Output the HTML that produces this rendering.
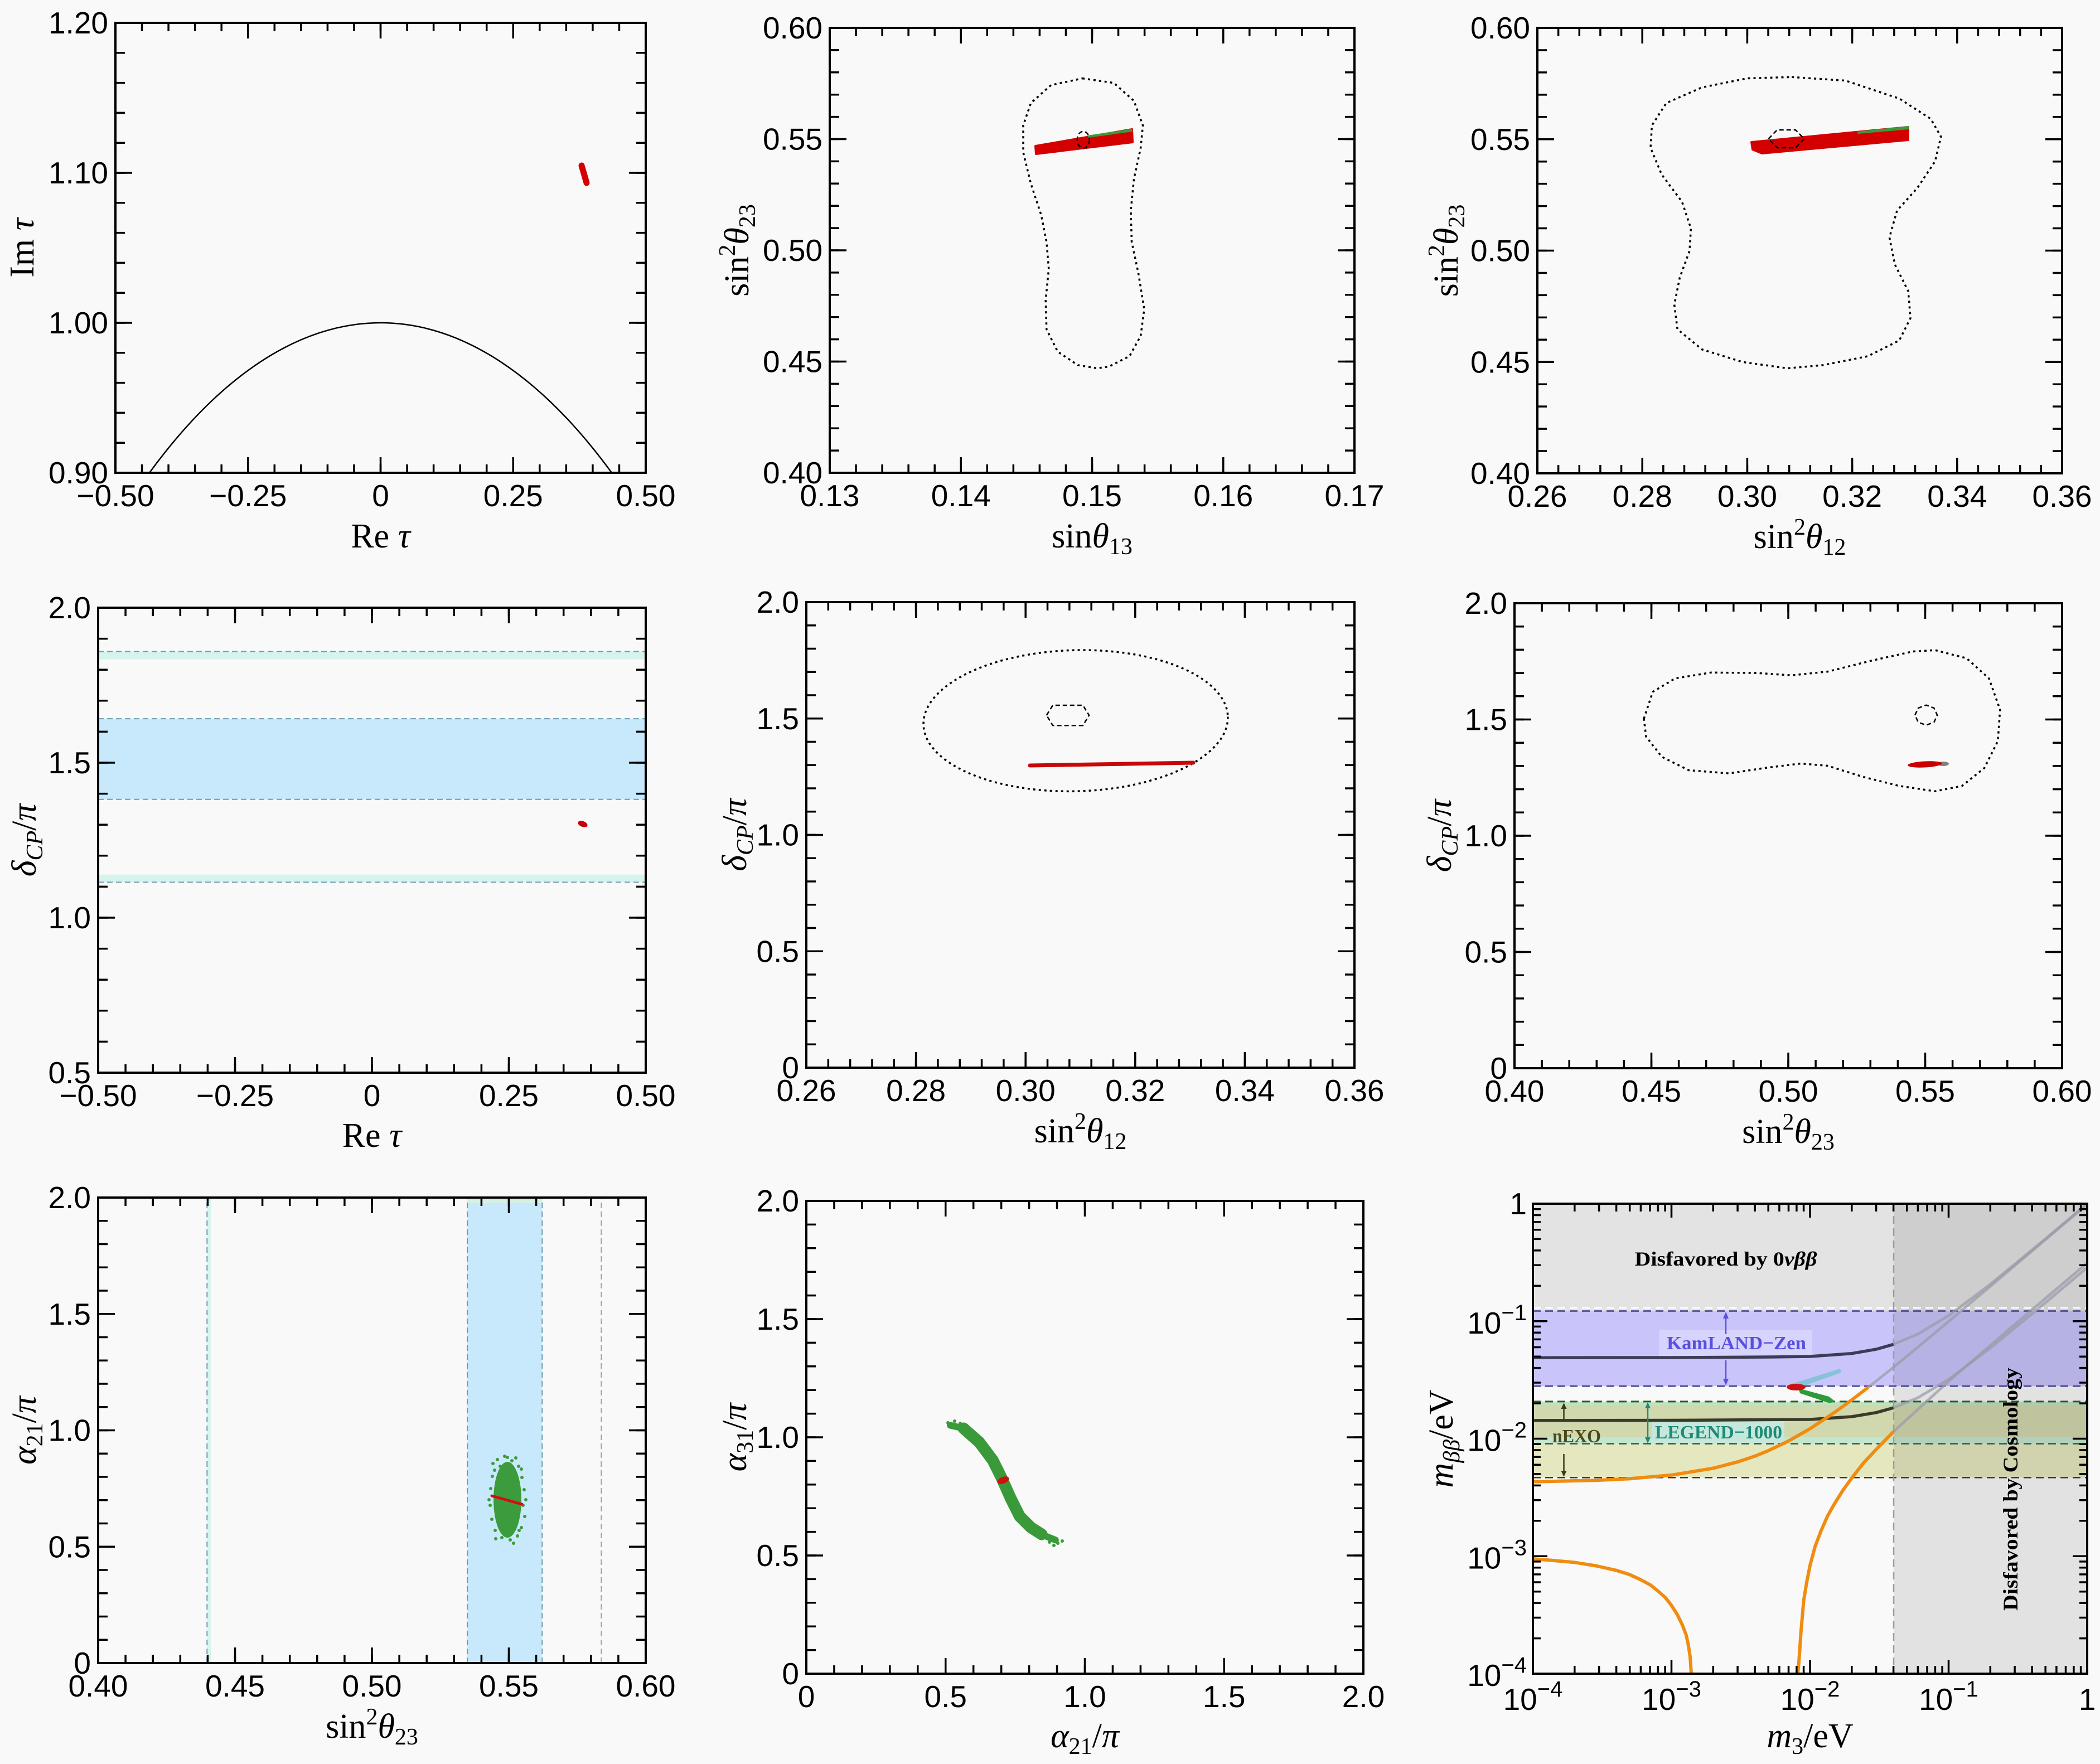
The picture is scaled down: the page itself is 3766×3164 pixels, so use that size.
<!DOCTYPE html>
<html><head><meta charset="utf-8"><style>
html,body{margin:0;padding:0;background:#f9f9f9;}
svg{display:block;}
.tl{font-family:"Liberation Sans",sans-serif;font-size:55px;fill:#000;}
.ti{font-family:"Liberation Serif",serif;font-size:62px;fill:#000;}
.it{font-style:italic;}
.fr{fill:none;stroke:#000;stroke-width:4;}
.tk{stroke:#000;fill:none;}
.dot{fill:none;stroke:#000;stroke-width:3.5;stroke-dasharray:4 6;stroke-linejoin:round;}
.dsh{fill:none;stroke:#000;stroke-width:2.5;stroke-dasharray:8 5;}
</style></head><body>
<svg width="3766" height="3164" viewBox="0 0 3766 3164" xmlns="http://www.w3.org/2000/svg">
<rect x="0" y="0" width="3766" height="3164" fill="#f9f9f9"/>

<!-- ===== P1 ===== -->
<path d="M268 848 A951 2690 0 0 1 1097 848" fill="none" stroke="#000" stroke-width="2.5"/>
<line x1="1043" y1="297" x2="1052" y2="328" stroke="#d40000" stroke-width="11" stroke-linecap="round"/>
<g class="tk">
<line x1="207" y1="840.5" x2="1158" y2="840.5" stroke-width="15" stroke-dasharray="3.5 44.05" stroke-dashoffset="1.75"/>
<line x1="207" y1="48.5" x2="1158" y2="48.5" stroke-width="15" stroke-dasharray="3.5 44.05" stroke-dashoffset="1.75"/>
<line x1="207" y1="834" x2="1158" y2="834" stroke-width="28" stroke-dasharray="3.5 234.25" stroke-dashoffset="1.75"/>
<line x1="207" y1="55" x2="1158" y2="55" stroke-width="28" stroke-dasharray="3.5 234.25" stroke-dashoffset="1.75"/>
<line x1="215.5" y1="848" x2="215.5" y2="41" stroke-width="17" stroke-dasharray="3.5 50.3" stroke-dashoffset="1.75"/>
<line x1="1149.5" y1="848" x2="1149.5" y2="41" stroke-width="17" stroke-dasharray="3.5 50.3" stroke-dashoffset="1.75"/>
<line x1="222" y1="848" x2="222" y2="41" stroke-width="30" stroke-dasharray="3.5 265.5" stroke-dashoffset="1.75"/>
<line x1="1143" y1="848" x2="1143" y2="41" stroke-width="30" stroke-dasharray="3.5 265.5" stroke-dashoffset="1.75"/>
</g>
<rect class="fr" x="207" y="41" width="951" height="807"/>
<g class="tl" text-anchor="middle">
<text x="207" y="908">−0.50</text><text x="444.75" y="908">−0.25</text><text x="682.5" y="908">0</text><text x="920.25" y="908">0.25</text><text x="1158" y="908">0.50</text>
</g>
<g class="tl" text-anchor="end">
<text x="194" y="867">0.90</text><text x="194" y="598">1.00</text><text x="194" y="329">1.10</text><text x="194" y="60">1.20</text>
</g>
<text class="ti" x="682.5" y="982" text-anchor="middle">Re <tspan class="it">τ</tspan></text>
<text class="ti" transform="translate(40 444.5) rotate(-90)" y="20" text-anchor="middle">Im <tspan class="it">τ</tspan></text>

<!-- ===== P2 ===== -->
<path class="dot" d="M1941.1 140.6 L1997.3 148.7 L2033.5 180.8 L2049.6 225 L2045.6 265.2 L2033.5 321.4 L2027.9 377.7 L2029.5 433.9 L2041.5 490.2 L2052 554.5 L2045.6 602.7 L2025.5 638.9 L1989.3 657.3 L1967.6 660.6 L1933 654.9 L1896.9 630.8 L1876.8 590.6 L1875.2 538.4 L1880.8 482.2 L1876.8 433.9 L1867.2 385.7 L1848.7 329.5 L1835 273.2 L1835 225 L1848.7 184.8 L1884.8 152.7 Z"/>
<path d="M1857 262 L2030 232 L2031 255 L1858 276 Z" fill="#d40000" stroke="#d40000" stroke-width="4" stroke-linejoin="round"/>
<path d="M1950 243 L2030 231 L2031 236 L1952 247 Z" fill="#3a9a3a"/>
<ellipse class="dsh" cx="1942.7" cy="250.7" rx="11" ry="15"/>
<g class="tk">
<line x1="1488" y1="840.5" x2="2429" y2="840.5" stroke-width="15" stroke-dasharray="3.5 43.55" stroke-dashoffset="1.75"/>
<line x1="1488" y1="57.5" x2="2429" y2="57.5" stroke-width="15" stroke-dasharray="3.5 43.55" stroke-dashoffset="1.75"/>
<line x1="1488" y1="834" x2="2429" y2="834" stroke-width="28" stroke-dasharray="3.5 231.75" stroke-dashoffset="1.75"/>
<line x1="1488" y1="64" x2="2429" y2="64" stroke-width="28" stroke-dasharray="3.5 231.75" stroke-dashoffset="1.75"/>
<line x1="1496.5" y1="848" x2="1496.5" y2="50" stroke-width="17" stroke-dasharray="3.5 36.4" stroke-dashoffset="1.75"/>
<line x1="2420.5" y1="848" x2="2420.5" y2="50" stroke-width="17" stroke-dasharray="3.5 36.4" stroke-dashoffset="1.75"/>
<line x1="1503" y1="848" x2="1503" y2="50" stroke-width="30" stroke-dasharray="3.5 196" stroke-dashoffset="1.75"/>
<line x1="2414" y1="848" x2="2414" y2="50" stroke-width="30" stroke-dasharray="3.5 196" stroke-dashoffset="1.75"/>
</g>
<rect class="fr" x="1488" y="50" width="941" height="798"/>
<g class="tl" text-anchor="middle">
<text x="1488" y="908">0.13</text><text x="1723.25" y="908">0.14</text><text x="1958.5" y="908">0.15</text><text x="2193.75" y="908">0.16</text><text x="2429" y="908">0.17</text>
</g>
<g class="tl" text-anchor="end">
<text x="1475" y="867">0.40</text><text x="1475" y="667.5">0.45</text><text x="1475" y="468">0.50</text><text x="1475" y="268.5">0.55</text><text x="1475" y="69">0.60</text>
</g>
<text class="ti" x="1958.5" y="982" text-anchor="middle">sin<tspan class="it">θ</tspan><tspan dy="12" font-size="42">13</tspan></text>
<text class="ti" transform="translate(1322 449) rotate(-90)" y="20" text-anchor="middle">sin<tspan dy="-24" font-size="42">2</tspan><tspan class="it" dy="24">θ</tspan><tspan dy="12" font-size="42">23</tspan></text>

<!-- ===== P3 ===== -->
<path class="dot" d="M3213.2 138.2 L3309.6 144.6 L3406 176.8 L3462.3 213 L3480.8 245.1 L3470.3 289.3 L3438.2 337.5 L3402 377.7 L3388.4 425.9 L3398 474.1 L3422.1 522.3 L3426.1 570.6 L3406 610.7 L3349.8 638.9 L3269.4 654.9 L3205.1 660.6 L3124.8 649.3 L3052.4 626.8 L3008.2 590.6 L3002.6 546.4 L3012.3 498.2 L3029.9 450 L3032.4 409.8 L3016.3 361.6 L2980.1 313.4 L2960 265.2 L2962.4 225 L2988.2 184.8 L3052.4 156.7 L3132.8 140.6 Z"/>
<path d="M3141 255 L3422 228 L3422 251 L3160 275 L3143 268 Z" fill="#d40000" stroke="#d40000" stroke-width="4" stroke-linejoin="round"/>
<path d="M3330 236 L3423 226 L3423 232 L3332 240 Z" fill="#3a9a3a"/>
<polygon class="dsh" points="3171.5,249 3187,233 3220,233 3235.5,249 3220,265 3187,265"/>
<g class="tk">
<line x1="2757" y1="841.5" x2="3698" y2="841.5" stroke-width="15" stroke-dasharray="3.5 34.14" stroke-dashoffset="1.75"/>
<line x1="2757" y1="57.5" x2="3698" y2="57.5" stroke-width="15" stroke-dasharray="3.5 34.14" stroke-dashoffset="1.75"/>
<line x1="2757" y1="835" x2="3698" y2="835" stroke-width="28" stroke-dasharray="3.5 184.7" stroke-dashoffset="1.75"/>
<line x1="2757" y1="64" x2="3698" y2="64" stroke-width="28" stroke-dasharray="3.5 184.7" stroke-dashoffset="1.75"/>
<line x1="2765.5" y1="849" x2="2765.5" y2="50" stroke-width="17" stroke-dasharray="3.5 36.45" stroke-dashoffset="1.75"/>
<line x1="3689.5" y1="849" x2="3689.5" y2="50" stroke-width="17" stroke-dasharray="3.5 36.45" stroke-dashoffset="1.75"/>
<line x1="2772" y1="849" x2="2772" y2="50" stroke-width="30" stroke-dasharray="3.5 196.25" stroke-dashoffset="1.75"/>
<line x1="3683" y1="849" x2="3683" y2="50" stroke-width="30" stroke-dasharray="3.5 196.25" stroke-dashoffset="1.75"/>
</g>
<rect class="fr" x="2757" y="50" width="941" height="799"/>
<g class="tl" text-anchor="middle">
<text x="2757" y="909">0.26</text><text x="2945.2" y="909">0.28</text><text x="3133.4" y="909">0.30</text><text x="3321.6" y="909">0.32</text><text x="3509.8" y="909">0.34</text><text x="3698" y="909">0.36</text>
</g>
<g class="tl" text-anchor="end">
<text x="2744" y="868">0.40</text><text x="2744" y="668.25">0.45</text><text x="2744" y="468.5">0.50</text><text x="2744" y="268.75">0.55</text><text x="2744" y="69">0.60</text>
</g>
<text class="ti" x="3227.5" y="983" text-anchor="middle">sin<tspan dy="-24" font-size="42">2</tspan><tspan class="it" dy="24">θ</tspan><tspan dy="12" font-size="42">12</tspan></text>
<text class="ti" transform="translate(2594 449.5) rotate(-90)" y="20" text-anchor="middle">sin<tspan dy="-24" font-size="42">2</tspan><tspan class="it" dy="24">θ</tspan><tspan dy="12" font-size="42">23</tspan></text>

<!-- ===== P4 ===== -->
<rect x="176" y="1168.6" width="982" height="14" fill="#d5f4ee"/>
<rect x="176" y="1289.1" width="982" height="144.7" fill="#c7e9fb"/>
<rect x="176" y="1568.8" width="982" height="13.6" fill="#d5f4ee"/>
<g stroke="#6b9eb3" stroke-width="2" stroke-dasharray="10 6">
<line x1="176" y1="1168.6" x2="1158" y2="1168.6"/><line x1="176" y1="1289.1" x2="1158" y2="1289.1"/>
<line x1="176" y1="1433.8" x2="1158" y2="1433.8"/><line x1="176" y1="1582.4" x2="1158" y2="1582.4"/>
</g>
<ellipse cx="1045" cy="1478" rx="9" ry="5" fill="#c80000" transform="rotate(20 1045 1478)"/>
<g class="tk">
<line x1="176" y1="1916.5" x2="1158" y2="1916.5" stroke-width="15" stroke-dasharray="3.5 45.6" stroke-dashoffset="1.75"/>
<line x1="176" y1="1097.5" x2="1158" y2="1097.5" stroke-width="15" stroke-dasharray="3.5 45.6" stroke-dashoffset="1.75"/>
<line x1="176" y1="1910" x2="1158" y2="1910" stroke-width="28" stroke-dasharray="3.5 242" stroke-dashoffset="1.75"/>
<line x1="176" y1="1104" x2="1158" y2="1104" stroke-width="28" stroke-dasharray="3.5 242" stroke-dashoffset="1.75"/>
<line x1="184.5" y1="1924" x2="184.5" y2="1090" stroke-width="17" stroke-dasharray="3.5 52.1" stroke-dashoffset="1.75"/>
<line x1="1149.5" y1="1924" x2="1149.5" y2="1090" stroke-width="17" stroke-dasharray="3.5 52.1" stroke-dashoffset="1.75"/>
<line x1="191" y1="1924" x2="191" y2="1090" stroke-width="30" stroke-dasharray="3.5 274.5" stroke-dashoffset="1.75"/>
<line x1="1143" y1="1924" x2="1143" y2="1090" stroke-width="30" stroke-dasharray="3.5 274.5" stroke-dashoffset="1.75"/>
</g>
<rect class="fr" x="176" y="1090" width="982" height="834"/>
<g class="tl" text-anchor="middle">
<text x="176" y="1984">−0.50</text><text x="421.5" y="1984">−0.25</text><text x="667" y="1984">0</text><text x="912.5" y="1984">0.25</text><text x="1158" y="1984">0.50</text>
</g>
<g class="tl" text-anchor="end">
<text x="163" y="1943">0.5</text><text x="163" y="1665">1.0</text><text x="163" y="1387">1.5</text><text x="163" y="1109">2.0</text>
</g>
<text class="ti" x="667" y="2057" text-anchor="middle">Re <tspan class="it">τ</tspan></text>
<text class="ti" transform="translate(44 1507) rotate(-90)" y="20" text-anchor="middle"><tspan class="it">δ</tspan><tspan class="it" dy="12" font-size="42">CP</tspan><tspan dy="-12">/</tspan><tspan class="it">π</tspan></text>

<!-- ===== P5 ===== -->
<ellipse class="dot" cx="1929" cy="1292.7" rx="273" ry="126.5" transform="rotate(-1.5 1929 1292.7)"/>
<polygon class="dsh" points="1876.8,1283 1888,1265 1942,1265 1953.1,1283 1942,1301.2 1888,1301.2"/>
<line x1="1847" y1="1373" x2="2140" y2="1368" stroke="#c80808" stroke-width="7" stroke-linecap="round"/>
<g class="tk">
<line x1="1446" y1="1907.5" x2="2429" y2="1907.5" stroke-width="15" stroke-dasharray="3.5 35.82" stroke-dashoffset="1.75"/>
<line x1="1446" y1="1087.5" x2="2429" y2="1087.5" stroke-width="15" stroke-dasharray="3.5 35.82" stroke-dashoffset="1.75"/>
<line x1="1446" y1="1901" x2="2429" y2="1901" stroke-width="28" stroke-dasharray="3.5 193.1" stroke-dashoffset="1.75"/>
<line x1="1446" y1="1094" x2="2429" y2="1094" stroke-width="28" stroke-dasharray="3.5 193.1" stroke-dashoffset="1.75"/>
<line x1="1454.5" y1="1915" x2="1454.5" y2="1080" stroke-width="17" stroke-dasharray="3.5 38.25" stroke-dashoffset="1.75"/>
<line x1="2420.5" y1="1915" x2="2420.5" y2="1080" stroke-width="17" stroke-dasharray="3.5 38.25" stroke-dashoffset="1.75"/>
<line x1="1461" y1="1915" x2="1461" y2="1080" stroke-width="30" stroke-dasharray="3.5 205.25" stroke-dashoffset="1.75"/>
<line x1="2414" y1="1915" x2="2414" y2="1080" stroke-width="30" stroke-dasharray="3.5 205.25" stroke-dashoffset="1.75"/>
</g>
<rect class="fr" x="1446" y="1080" width="983" height="835"/>
<g class="tl" text-anchor="middle">
<text x="1446" y="1975">0.26</text><text x="1642.6" y="1975">0.28</text><text x="1839.2" y="1975">0.30</text><text x="2035.8" y="1975">0.32</text><text x="2232.4" y="1975">0.34</text><text x="2429" y="1975">0.36</text>
</g>
<g class="tl" text-anchor="end">
<text x="1433" y="1934">0</text><text x="1433" y="1725.25">0.5</text><text x="1433" y="1516.5">1.0</text><text x="1433" y="1307.75">1.5</text><text x="1433" y="1099">2.0</text>
</g>
<text class="ti" x="1937.5" y="2049" text-anchor="middle">sin<tspan dy="-24" font-size="42">2</tspan><tspan class="it" dy="24">θ</tspan><tspan dy="12" font-size="42">12</tspan></text>
<text class="ti" transform="translate(1318 1497.5) rotate(-90)" y="20" text-anchor="middle"><tspan class="it">δ</tspan><tspan class="it" dy="12" font-size="42">CP</tspan><tspan dy="-12">/</tspan><tspan class="it">π</tspan></text>

<!-- ===== P6 ===== -->
<path class="dot" d="M2948 1289.1 L2964 1240.9 L3004.2 1216.8 L3068.5 1206.3 L3148.9 1207.1 L3213.2 1211.2 L3277.4 1204.7 L3357.8 1184.6 L3430.1 1168.6 L3470.3 1166.2 L3526.6 1180.6 L3566.8 1216.8 L3586.8 1273 L3582.8 1329.3 L3558.7 1377.5 L3518.5 1409.7 L3470.3 1419.3 L3406 1409.7 L3341.7 1393.6 L3277.4 1373.5 L3229.2 1369.5 L3165 1377.5 L3100.7 1387.2 L3028.3 1381.5 L2980.1 1357.4 L2952 1321.3 Z"/>
<polygon class="dsh" points="3434.2,1282.7 3440,1270 3454.2,1264.7 3468.4,1270 3474.2,1282.7 3468.4,1295.4 3454.2,1300.7 3440,1295.4"/>
<ellipse cx="3485" cy="1370" rx="10" ry="4" fill="#808080"/>
<ellipse cx="3452" cy="1371" rx="31" ry="5.5" fill="#c80000" transform="rotate(-3 3452 1371)"/>
<g class="tk">
<line x1="2716" y1="1908.5" x2="3698" y2="1908.5" stroke-width="15" stroke-dasharray="3.5 45.6" stroke-dashoffset="1.75"/>
<line x1="2716" y1="1089.5" x2="3698" y2="1089.5" stroke-width="15" stroke-dasharray="3.5 45.6" stroke-dashoffset="1.75"/>
<line x1="2716" y1="1902" x2="3698" y2="1902" stroke-width="28" stroke-dasharray="3.5 242" stroke-dashoffset="1.75"/>
<line x1="2716" y1="1096" x2="3698" y2="1096" stroke-width="28" stroke-dasharray="3.5 242" stroke-dashoffset="1.75"/>
<line x1="2724.5" y1="1916" x2="2724.5" y2="1082" stroke-width="17" stroke-dasharray="3.5 38.2" stroke-dashoffset="1.75"/>
<line x1="3689.5" y1="1916" x2="3689.5" y2="1082" stroke-width="17" stroke-dasharray="3.5 38.2" stroke-dashoffset="1.75"/>
<line x1="2731" y1="1916" x2="2731" y2="1082" stroke-width="30" stroke-dasharray="3.5 205" stroke-dashoffset="1.75"/>
<line x1="3683" y1="1916" x2="3683" y2="1082" stroke-width="30" stroke-dasharray="3.5 205" stroke-dashoffset="1.75"/>
</g>
<rect class="fr" x="2716" y="1082" width="982" height="834"/>
<g class="tl" text-anchor="middle">
<text x="2716" y="1976">0.40</text><text x="2961.5" y="1976">0.45</text><text x="3207" y="1976">0.50</text><text x="3452.5" y="1976">0.55</text><text x="3698" y="1976">0.60</text>
</g>
<g class="tl" text-anchor="end">
<text x="2703" y="1935">0</text><text x="2703" y="1726.5">0.5</text><text x="2703" y="1518">1.0</text><text x="2703" y="1309.5">1.5</text><text x="2703" y="1101">2.0</text>
</g>
<text class="ti" x="3207" y="2050" text-anchor="middle">sin<tspan dy="-24" font-size="42">2</tspan><tspan class="it" dy="24">θ</tspan><tspan dy="12" font-size="42">23</tspan></text>
<text class="ti" transform="translate(2582 1499) rotate(-90)" y="20" text-anchor="middle"><tspan class="it">δ</tspan><tspan class="it" dy="12" font-size="42">CP</tspan><tspan dy="-12">/</tspan><tspan class="it">π</tspan></text>

<!-- ===== P7 ===== -->
<rect x="371.3" y="2148" width="7" height="835" fill="#d5f4ee"/>
<rect x="838.2" y="2148" width="134.1" height="835" fill="#c7e9fb"/>
<rect x="838.2" y="2150" width="134.1" height="8" fill="#d5f0e4"/>
<g stroke-width="2" stroke-dasharray="10 6">
<line x1="371.3" y1="2983" x2="371.3" y2="2148" stroke="#6b9eb3"/>
<line x1="838.2" y1="2983" x2="838.2" y2="2148" stroke="#6b9eb3"/>
<line x1="972.3" y1="2983" x2="972.3" y2="2148" stroke="#6b9eb3"/>
<line x1="1078.4" y1="2983" x2="1078.4" y2="2148" stroke="#a0a0a0"/>
</g>
<ellipse cx="910" cy="2690" rx="25" ry="68" fill="#3c9b3c"/>
<g fill="#3c9b3c">
<circle cx="884" cy="2625" r="3"/><circle cx="892" cy="2618" r="3"/><circle cx="905" cy="2612" r="3"/><circle cx="918" cy="2620" r="3"/><circle cx="930" cy="2630" r="3"/><circle cx="936" cy="2650" r="3"/><circle cx="940" cy="2672" r="3"/><circle cx="938" cy="2700" r="3"/><circle cx="941" cy="2720" r="3"/><circle cx="935" cy="2740" r="3"/><circle cx="928" cy="2755" r="3"/><circle cx="915" cy="2762" r="3"/><circle cx="900" cy="2758" r="3"/><circle cx="888" cy="2745" r="3"/><circle cx="882" cy="2725" r="3"/><circle cx="879" cy="2700" r="3"/><circle cx="880" cy="2670" r="3"/><circle cx="883" cy="2648" r="3"/><circle cx="897" cy="2630" r="3"/><circle cx="925" cy="2615" r="3"/><circle cx="889" cy="2760" r="3"/><circle cx="921" cy="2768" r="3"/><circle cx="910" cy="2614" r="3"/><circle cx="877" cy="2690" r="3"/><circle cx="943" cy="2690" r="3"/><circle cx="931" cy="2745" r="3"/><circle cx="887" cy="2637" r="3"/><circle cx="935" cy="2635" r="3"/>
</g>
<line x1="882" y1="2683" x2="936" y2="2698" stroke="#d01010" stroke-width="5" stroke-linecap="round"/>
<g class="tk">
<line x1="176" y1="2975.5" x2="1158" y2="2975.5" stroke-width="15" stroke-dasharray="3.5 45.6" stroke-dashoffset="1.75"/>
<line x1="176" y1="2155.5" x2="1158" y2="2155.5" stroke-width="15" stroke-dasharray="3.5 45.6" stroke-dashoffset="1.75"/>
<line x1="176" y1="2969" x2="1158" y2="2969" stroke-width="28" stroke-dasharray="3.5 242" stroke-dashoffset="1.75"/>
<line x1="176" y1="2162" x2="1158" y2="2162" stroke-width="28" stroke-dasharray="3.5 242" stroke-dashoffset="1.75"/>
<line x1="184.5" y1="2983" x2="184.5" y2="2148" stroke-width="17" stroke-dasharray="3.5 38.25" stroke-dashoffset="1.75"/>
<line x1="1149.5" y1="2983" x2="1149.5" y2="2148" stroke-width="17" stroke-dasharray="3.5 38.25" stroke-dashoffset="1.75"/>
<line x1="191" y1="2983" x2="191" y2="2148" stroke-width="30" stroke-dasharray="3.5 205.25" stroke-dashoffset="1.75"/>
<line x1="1143" y1="2983" x2="1143" y2="2148" stroke-width="30" stroke-dasharray="3.5 205.25" stroke-dashoffset="1.75"/>
</g>
<rect class="fr" x="176" y="2148" width="982" height="835"/>
<g class="tl" text-anchor="middle">
<text x="176" y="3043">0.40</text><text x="421.5" y="3043">0.45</text><text x="667" y="3043">0.50</text><text x="912.5" y="3043">0.55</text><text x="1158" y="3043">0.60</text>
</g>
<g class="tl" text-anchor="end">
<text x="163" y="3002">0</text><text x="163" y="2793.25">0.5</text><text x="163" y="2584.5">1.0</text><text x="163" y="2375.75">1.5</text><text x="163" y="2167">2.0</text>
</g>
<text class="ti" x="667" y="3117" text-anchor="middle">sin<tspan dy="-24" font-size="42">2</tspan><tspan class="it" dy="24">θ</tspan><tspan dy="12" font-size="42">23</tspan></text>
<text class="ti" transform="translate(44 2565.5) rotate(-90)" y="20" text-anchor="middle"><tspan class="it">α</tspan><tspan dy="12" font-size="42">21</tspan><tspan dy="-12">/</tspan><tspan class="it">π</tspan></text>

<!-- ===== P8 ===== -->
<polyline points="1704,2556.5 1732.2,2563 1756.3,2587 1780.4,2619.2 1796.4,2651.3 1812.5,2687.5 1828.6,2719.7 1848.7,2739.7 1872.8,2754.2 1892.9,2762.3" fill="none" stroke="#3a9a3a" stroke-width="12" stroke-linecap="round" stroke-linejoin="round"/>
<polyline points="1728,2562 1756.3,2587 1780.4,2619.2 1796.4,2651.3 1812.5,2687.5 1828.6,2719.7 1848.7,2739.7 1868,2752" fill="none" stroke="#3a9a3a" stroke-width="21" stroke-linecap="round" stroke-linejoin="round"/>
<g fill="#3a9a3a">
<circle cx="1700" cy="2552" r="3"/><circle cx="1712" cy="2549" r="3"/><circle cx="1722" cy="2553" r="3"/><circle cx="1897" cy="2768" r="3"/><circle cx="1905" cy="2764" r="3"/><circle cx="1890" cy="2772" r="3"/><circle cx="1882" cy="2766" r="3"/>
</g>
<ellipse cx="1799" cy="2655" rx="11" ry="6" fill="#d01010" transform="rotate(-20 1799 2655)"/>
<g class="tk">
<line x1="1446" y1="2994.5" x2="2445" y2="2994.5" stroke-width="15" stroke-dasharray="3.5 46.45" stroke-dashoffset="1.75"/>
<line x1="1446" y1="2161.5" x2="2445" y2="2161.5" stroke-width="15" stroke-dasharray="3.5 46.45" stroke-dashoffset="1.75"/>
<line x1="1446" y1="2988" x2="2445" y2="2988" stroke-width="28" stroke-dasharray="3.5 246.25" stroke-dashoffset="1.75"/>
<line x1="1446" y1="2168" x2="2445" y2="2168" stroke-width="28" stroke-dasharray="3.5 246.25" stroke-dashoffset="1.75"/>
<line x1="1454.5" y1="3002" x2="1454.5" y2="2154" stroke-width="17" stroke-dasharray="3.5 38.9" stroke-dashoffset="1.75"/>
<line x1="2436.5" y1="3002" x2="2436.5" y2="2154" stroke-width="17" stroke-dasharray="3.5 38.9" stroke-dashoffset="1.75"/>
<line x1="1461" y1="3002" x2="1461" y2="2154" stroke-width="30" stroke-dasharray="3.5 208.5" stroke-dashoffset="1.75"/>
<line x1="2430" y1="3002" x2="2430" y2="2154" stroke-width="30" stroke-dasharray="3.5 208.5" stroke-dashoffset="1.75"/>
</g>
<rect class="fr" x="1446" y="2154" width="999" height="848"/>
<g class="tl" text-anchor="middle">
<text x="1446" y="3062">0</text><text x="1695.75" y="3062">0.5</text><text x="1945.5" y="3062">1.0</text><text x="2195.25" y="3062">1.5</text><text x="2445" y="3062">2.0</text>
</g>
<g class="tl" text-anchor="end">
<text x="1433" y="3021">0</text><text x="1433" y="2809">0.5</text><text x="1433" y="2597">1.0</text><text x="1433" y="2385">1.5</text><text x="1433" y="2173">2.0</text>
</g>
<text class="ti" x="1945.5" y="3134" text-anchor="middle"><tspan class="it">α</tspan><tspan dy="12" font-size="42">21</tspan><tspan dy="-12">/</tspan><tspan class="it">π</tspan></text>
<text class="ti" transform="translate(1318 2578) rotate(-90)" y="20" text-anchor="middle"><tspan class="it">α</tspan><tspan dy="12" font-size="42">31</tspan><tspan dy="-12">/</tspan><tspan class="it">π</tspan></text>

<!-- ===== P9 ===== -->
<rect x="2749" y="2159" width="994" height="192.5" fill="#e3e3e3"/>
<rect x="2749" y="2351.5" width="994" height="134.8" fill="#c9c5fb"/>
<rect x="2975" y="2386" width="275" height="46" fill="#d6d3fc"/>
<rect x="2749" y="2513.9" width="994" height="75.6" fill="#d2d8ae"/>
<rect x="2749" y="2513.9" width="994" height="6" fill="#bfe3bf"/>
<rect x="2749" y="2578" width="994" height="11.5" fill="#c3e6cf"/>
<rect x="2749" y="2589.5" width="994" height="60.7" fill="#e5e8bf"/>
<rect x="2962" y="2546" width="238" height="42" fill="#c6e7dc"/>
<rect x="3396" y="2159" width="347" height="843" fill="#000" fill-opacity="0.09"/>
<g fill="none" stroke-width="2.5" stroke-dasharray="14 8">
<line x1="2749" y1="2346" x2="3743" y2="2346" stroke="#ffffff"/>
<line x1="2749" y1="2351.5" x2="3743" y2="2351.5" stroke="#3c3c8c"/>
<line x1="2749" y1="2486.3" x2="3743" y2="2486.3" stroke="#3c3c8c"/>
<line x1="2749" y1="2513.9" x2="3743" y2="2513.9" stroke="#2c5a2c" stroke-width="3"/>
<line x1="2749" y1="2589.5" x2="3743" y2="2589.5" stroke="#2c5a4c"/>
<line x1="2749" y1="2650.2" x2="3743" y2="2650.2" stroke="#3c3c2c"/>
<line x1="3396" y1="2159" x2="3396" y2="3002" stroke="#9c9c9c"/>
</g>
<!-- faded diagonal continuations -->
<g fill="none" stroke="#9a9aa8" stroke-width="5" stroke-opacity="0.7" stroke-linejoin="round">
<polyline points="3350.4,2488.4 3395.6,2452.4 3419.7,2432.6 3494.5,2370.3 3613,2270.2 3743,2160"/>
<polyline points="3395.6,2568 3494.5,2477.6 3613,2375.7 3743,2265.4"/>
<polyline points="3395.6,2411.3 3439.4,2392.9 3494.5,2359.8 3569.3,2303.6 3668.2,2222 3743,2159"/>
<polyline points="3395.6,2525.1 3439.4,2507 3494.5,2474.1 3569.3,2418.1 3668.2,2336.6 3743,2273.5"/>
</g>
<!-- IO curves -->
<polyline points="2749,2435.2 2997.5,2435 3171.2,2434 3246,2433 3320.8,2427.7 3364.6,2420.1 3395.6,2411.3" fill="none" stroke="#3c3c58" stroke-width="5.5" stroke-linejoin="round"/>
<polyline points="2749,2547.8 2997.5,2547.5 3246,2546 3320.8,2541 3364.6,2533.7 3395.6,2525.1" fill="none" stroke="#383b2a" stroke-width="5.5" stroke-linejoin="round"/>
<!-- NO curves -->
<g fill="none" stroke="#f08c10" stroke-width="6" stroke-linejoin="round">
<polyline points="2749,2657.8 2867.6,2655 2922.7,2652.3 2997.5,2645.8 3072.3,2633.5 3116.1,2622.2 3147.1,2611.8 3171.2,2602 3207.5,2584.6 3246,2562.6 3289.8,2533.5 3320.8,2511 3350.4,2488.4"/>
<polyline points="2749,2796 2786,2799 2823.8,2802.4 2862,2808.5 2898.6,2816.7 2922,2824 2942.4,2833.5 2960,2843 2973.4,2853.8 2987,2866 2997.5,2879.6 3008,2896 3017.2,2914.9 3024,2933 3028,2952 3031,2972 3033,3002"/>
<polyline points="3224,3002 3225.5,2987.7 3227.5,2960 3229.5,2930 3234.6,2871.3 3240,2838 3246,2807.8 3255,2774 3265.7,2745.9 3277,2720 3289.8,2697.2 3305,2673 3320.8,2651.1 3342,2624 3364.6,2599.8 3395.6,2568"/>
</g>
<!-- scatter -->
<path d="M3213 2482 L3300 2455 L3302 2462 L3225 2489 Z" fill="#88c2d8"/>
<path d="M3225 2490 L3280 2505 L3290 2513 L3282 2517 L3228 2499 Z" fill="#2e9a3a"/>
<ellipse cx="3221" cy="2488" rx="17" ry="6" fill="#cc1010"/>
<!-- arrows -->
<g stroke-width="2.5">
<line x1="3095" y1="2393" x2="3095" y2="2362" stroke="#5a4fe0"/>
<line x1="3095" y1="2440" x2="3095" y2="2476" stroke="#5a4fe0"/>
<line x1="2955" y1="2522" x2="2955" y2="2581" stroke="#1b8a80"/>
<line x1="2804.5" y1="2545" x2="2804.5" y2="2524" stroke="#3a3a1a"/>
<line x1="2804.5" y1="2608" x2="2804.5" y2="2640" stroke="#3a3a1a"/>
</g>
<polygon points="3095,2353 3090,2365 3100,2365" fill="#5a4fe0"/>
<polygon points="3095,2485 3090,2473 3100,2473" fill="#5a4fe0"/>
<polygon points="2955,2515 2950,2526 2960,2526" fill="#1b8a80"/>
<polygon points="2955,2589 2950,2578 2960,2578" fill="#1b8a80"/>
<polygon points="2804.5,2516 2799.5,2527 2809.5,2527" fill="#3a3a1a"/>
<polygon points="2804.5,2649 2799.5,2638 2809.5,2638" fill="#3a3a1a"/>
<!-- P9 text -->
<g font-family="Liberation Serif, serif" font-weight="bold">
<text x="3095" y="2270" font-size="36" text-anchor="middle" textLength="327" lengthAdjust="spacingAndGlyphs" fill="#000">Disfavored by 0<tspan font-style="italic">νββ</tspan></text>
<text x="2989" y="2420" font-size="34" textLength="250" lengthAdjust="spacingAndGlyphs" fill="#5a4fe0">KamLAND−Zen</text>
<text x="2968" y="2580" font-size="34" textLength="228" lengthAdjust="spacingAndGlyphs" fill="#1f8a78">LEGEND−1000</text>
<text x="2784" y="2587" font-size="34" textLength="87" lengthAdjust="spacingAndGlyphs" fill="#4a4a1a">nEXO</text>
<text transform="translate(3618 2671) rotate(-90)" font-size="37" text-anchor="middle" textLength="436" lengthAdjust="spacingAndGlyphs" fill="#000">Disfavored by Cosmology</text>
</g>
<!-- P9 ticks -->
<path class="tk" stroke-width="3.5" d="M2823.8 3002v-14M2867.6 3002v-14M2898.6 3002v-14M2922.7 3002v-14M2942.4 3002v-14M2959 3002v-14M2973.4 3002v-14M2986.1 3002v-14M3072.3 3002v-14M3116.1 3002v-14M3147.1 3002v-14M3171.2 3002v-14M3190.9 3002v-14M3207.5 3002v-14M3221.9 3002v-14M3234.6 3002v-14M3320.8 3002v-14M3364.6 3002v-14M3395.6 3002v-14M3419.7 3002v-14M3439.4 3002v-14M3456 3002v-14M3470.4 3002v-14M3483.1 3002v-14M3569.3 3002v-14M3613.1 3002v-14M3644.1 3002v-14M3668.2 3002v-14M3687.9 3002v-14M3704.5 3002v-14M3718.9 3002v-14M3731.6 3002v-14
M2823.8 2159v14M2867.6 2159v14M2898.6 2159v14M2922.7 2159v14M2942.4 2159v14M2959 2159v14M2973.4 2159v14M2986.1 2159v14M3072.3 2159v14M3116.1 2159v14M3147.1 2159v14M3171.2 2159v14M3190.9 2159v14M3207.5 2159v14M3221.9 2159v14M3234.6 2159v14M3320.8 2159v14M3364.6 2159v14M3395.6 2159v14M3419.7 2159v14M3439.4 2159v14M3456 2159v14M3470.4 2159v14M3483.1 2159v14M3569.3 2159v14M3613.1 2159v14M3644.1 2159v14M3668.2 2159v14M3687.9 2159v14M3704.5 2159v14M3718.9 2159v14M3731.6 2159v14
M2997.5 3002v-25M3246 3002v-25M3494.5 3002v-25M2997.5 2159v25M3246 2159v25M3494.5 2159v25
M2749 2938.6h14M2749 2901.5h14M2749 2875.1h14M2749 2854.7h14M2749 2838h14M2749 2823.9h14M2749 2811.7h14M2749 2800.9h14M2749 2727.8h14M2749 2690.7h14M2749 2664.4h14M2749 2643.9h14M2749 2627.3h14M2749 2613.2h14M2749 2601h14M2749 2590.2h14M2749 2517.1h14M2749 2480h14M2749 2453.6h14M2749 2433.2h14M2749 2416.5h14M2749 2402.4h14M2749 2390.2h14M2749 2379.4h14M2749 2306.3h14M2749 2269.2h14M2749 2242.9h14M2749 2222.4h14M2749 2205.8h14M2749 2191.7h14M2749 2179.5h14M2749 2168.7h14
M3743 2938.6h-14M3743 2901.5h-14M3743 2875.1h-14M3743 2854.7h-14M3743 2838h-14M3743 2823.9h-14M3743 2811.7h-14M3743 2800.9h-14M3743 2727.8h-14M3743 2690.7h-14M3743 2664.4h-14M3743 2643.9h-14M3743 2627.3h-14M3743 2613.2h-14M3743 2601h-14M3743 2590.2h-14M3743 2517.1h-14M3743 2480h-14M3743 2453.6h-14M3743 2433.2h-14M3743 2416.5h-14M3743 2402.4h-14M3743 2390.2h-14M3743 2379.4h-14M3743 2306.3h-14M3743 2269.2h-14M3743 2242.9h-14M3743 2222.4h-14M3743 2205.8h-14M3743 2191.7h-14M3743 2179.5h-14M3743 2168.7h-14
M2749 2791.25h26M2749 2580.5h26M2749 2369.75h26M3743 2791.25h-26M3743 2580.5h-26M3743 2369.75h-26"/>
<rect class="fr" x="2749" y="2159" width="994" height="843"/>
<g class="tl" text-anchor="middle">
<text x="2749" y="3067">10<tspan dy="-24" font-size="40">−4</tspan></text>
<text x="2997.5" y="3067">10<tspan dy="-24" font-size="40">−3</tspan></text>
<text x="3246" y="3067">10<tspan dy="-24" font-size="40">−2</tspan></text>
<text x="3494.5" y="3067">10<tspan dy="-24" font-size="40">−1</tspan></text>
<text x="3743" y="3067">1</text>
</g>
<g class="tl" text-anchor="end">
<text x="2738" y="3024">10<tspan dy="-24" font-size="40">−4</tspan></text>
<text x="2738" y="2813.25">10<tspan dy="-24" font-size="40">−3</tspan></text>
<text x="2738" y="2602.5">10<tspan dy="-24" font-size="40">−2</tspan></text>
<text x="2738" y="2391.75">10<tspan dy="-24" font-size="40">−1</tspan></text>
<text x="2738" y="2178">1</text>
</g>
<text class="ti" x="3246" y="3134" text-anchor="middle"><tspan class="it">m</tspan><tspan dy="12" font-size="42">3</tspan><tspan dy="-12">/eV</tspan></text>
<text class="ti" transform="translate(2585 2580.5) rotate(-90)" y="20" text-anchor="middle"><tspan class="it">m</tspan><tspan class="it" dy="12" font-size="42">ββ</tspan><tspan dy="-12">/eV</tspan></text>
</svg>
</body></html>
